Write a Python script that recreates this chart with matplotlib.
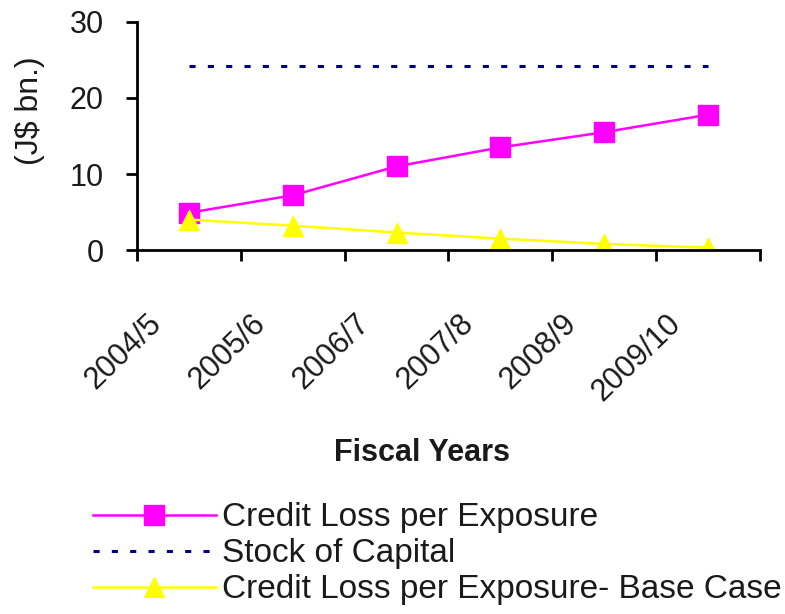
import matplotlib
matplotlib.use("Agg")
import matplotlib.pyplot as plt
from matplotlib.transforms import ScaledTranslation

plt.rcParams["font.family"] = ["Liberation Sans", "DejaVu Sans"]

# Chart data
years = ["2004/5", "2005/6", "2006/7", "2007/8", "2008/9", "2009/10"]
credit_loss = [4.9, 7.2, 11.0, 13.5, 15.5, 17.8]
stock_capital = [24.2, 24.2, 24.2, 24.2, 24.2, 24.2]
credit_loss_base = [4.0, 3.2, 2.3, 1.5, 0.8, 0.3]

fig = plt.figure(figsize=(7.85, 6.14), dpi=100)
ax = fig.add_axes([0.1745, 0.5928, 0.7936, 0.3714])

x = list(range(len(years)))
l1, = ax.plot(x, credit_loss, color="#FF00FF", lw=1.8, marker="s",
              markersize=14, label="Credit Loss per Exposure")
l2, = ax.plot(x, stock_capital, color="#000080", lw=2.2, dashes=(2, 4),
              label="Stock of Capital")
l3, = ax.plot(x, credit_loss_base, color="#FFFF00", lw=1.8, marker="^",
              markersize=15, label="Credit Loss per Exposure- Base Case")

# Axes formatting
ax.set_xlim(-0.5, len(years) - 0.5)
ax.set_ylim(0, 30)
ax.set_yticks([0, 10, 20, 30])
ax.set_xticks([i - 0.5 for i in range(len(years) + 1)])
ax.set_xticklabels([])
ax.set_xticks(x, minor=True)
ax.set_xticklabels(years, minor=True, rotation=44, ha="right", va="top",
                   rotation_mode="anchor", fontsize=22, color="#1a1a1a")
ax.tick_params(axis="x", which="minor", length=0, pad=42)
ax.tick_params(axis="both", which="major", length=8, width=2, direction="out")
ax.tick_params(axis="y", labelsize=22, pad=16, labelcolor="#1a1a1a")
shift = ScaledTranslation(-0.42, 0, fig.dpi_scale_trans)
for lab in ax.get_xticklabels(minor=True):
    lab.set_transform(lab.get_transform() + shift)

for side in ["top", "right"]:
    ax.spines[side].set_visible(False)
for side in ["left", "bottom"]:
    ax.spines[side].set_linewidth(2)

ax.set_ylabel("(J$ bn.)", fontsize=23, color="#1a1a1a", va="center")
ax.yaxis.set_label_coords(-0.172, 0.61)
ax.set_xlabel("Fiscal Years", fontsize=22, fontweight="bold", color="#1a1a1a", va="center")
ax.xaxis.set_label_coords(0.458, -0.89)

fig.legend(handles=[l1, l2, l3], loc="upper left", bbox_to_anchor=(0.118, 0.182),
           frameon=False, fontsize=24, handlelength=3.7, handletextpad=0.18,
           labelspacing=0.15, borderpad=0, borderaxespad=0, labelcolor="#1a1a1a")

fig.savefig("out.png", dpi=100)
